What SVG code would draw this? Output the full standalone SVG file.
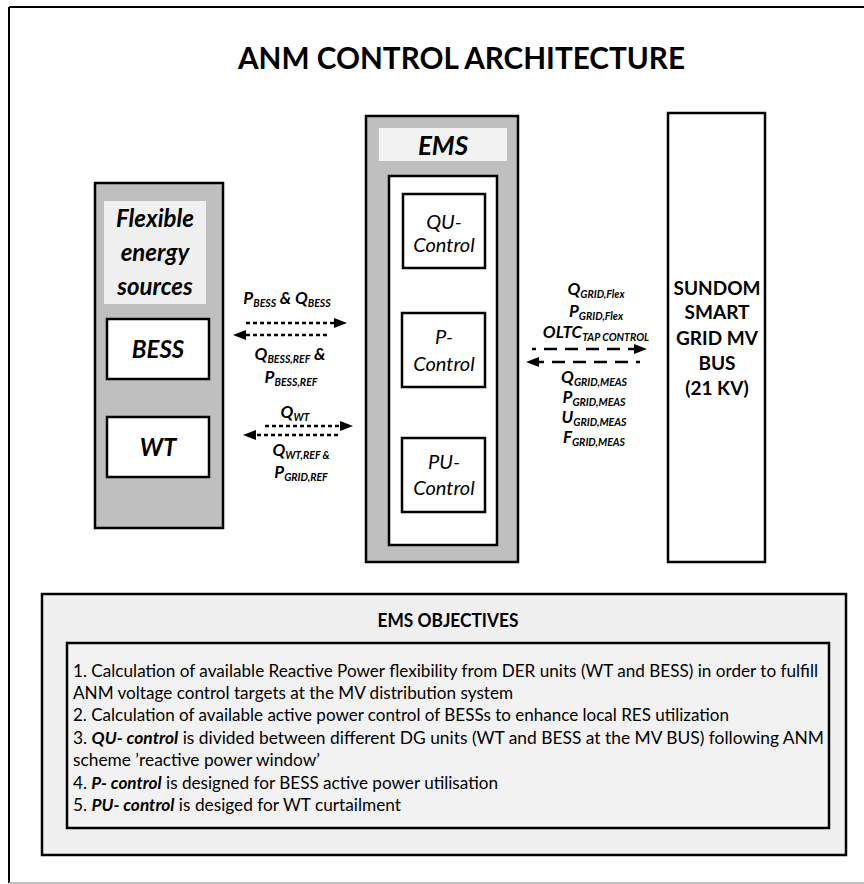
<svg xmlns="http://www.w3.org/2000/svg" width="864" height="884" viewBox="0 0 864 884">
<style>
text{font-family:Lato,"Liberation Sans",sans-serif;fill:#000}
.bi{font-weight:bold;font-style:italic}
.b{font-weight:bold}
.it{font-style:italic}
.box{stroke:#000;stroke-width:2.5}
.lbl{font-size:17px;font-weight:bold;font-style:italic;text-anchor:middle}
.sub{font-size:10.5px}
.dot{stroke:#000;stroke-width:2.5;stroke-dasharray:4 3;fill:none}
.dash{stroke:#000;stroke-width:2.5;stroke-dasharray:13 8;fill:none}
.obj{font-size:17px}
</style>
<defs>
<marker id="ah" markerUnits="userSpaceOnUse" markerWidth="14" markerHeight="12" refX="0" refY="6" orient="auto">
<path d="M0,1 L13,6 L0,11 Z" fill="#000"/>
</marker>
</defs>
<rect x="0" y="0" width="864" height="884" fill="#fff"/>
<g id="frame">
<line x1="9" y1="7" x2="864" y2="7" stroke="#000" stroke-width="2"/>
<line x1="9" y1="7" x2="9" y2="883" stroke="#000" stroke-width="2"/>
<line x1="9" y1="883" x2="864" y2="883" stroke="#aaa" stroke-width="1.5"/>
</g>
<text x="461.5" y="69" font-size="30" class="b" text-anchor="middle" textLength="447" lengthAdjust="spacingAndGlyphs">ANM CONTROL ARCHITECTURE</text>

<g id="flexible">
<rect class="box" x="95" y="183" width="128" height="345" fill="#bfbfbf"/>
<rect x="104" y="201" width="102" height="103" fill="#f0f0f0"/>
<text class="bi" font-size="24" text-anchor="middle" x="155" y="227">Flexible</text>
<text class="bi" font-size="24" text-anchor="middle" x="155" y="261">energy</text>
<text class="bi" font-size="24" text-anchor="middle" x="155" y="295">sources</text>
</g>
<g id="bess">
<rect class="box" x="107" y="319" width="102" height="60" fill="#fff"/>
<text class="bi" font-size="24" text-anchor="middle" x="158" y="358">BESS</text>
</g>
<g id="wt">
<rect class="box" x="107" y="417" width="102" height="60" fill="#fff"/>
<text class="bi" font-size="24" text-anchor="middle" x="158" y="456">WT</text>
</g>

<g id="ems">
<rect class="box" x="366" y="116" width="152" height="446" fill="#bfbfbf"/>
<rect x="379" y="128" width="128" height="33" fill="#f2f2f2"/>
<text class="bi" font-size="26" text-anchor="middle" x="443" y="155">EMS</text>
<rect class="box" x="389" y="176" width="108" height="369" fill="#fff"/>
</g>
<g id="qu-control">
<rect class="box" x="403" y="194" width="82" height="74" fill="#fff"/>
<text class="it" font-size="20" text-anchor="middle" x="444" y="229">QU-</text>
<text class="it" font-size="20" text-anchor="middle" x="444" y="252">Control</text>
</g>
<g id="p-control">
<rect class="box" x="402" y="313" width="83" height="74" fill="#fff"/>
<text class="it" font-size="20" text-anchor="middle" x="444" y="344">P-</text>
<text class="it" font-size="20" text-anchor="middle" x="444" y="371">Control</text>
</g>
<g id="pu-control">
<rect class="box" x="402" y="438" width="83" height="74" fill="#fff"/>
<text class="it" font-size="20" text-anchor="middle" x="444" y="469">PU-</text>
<text class="it" font-size="20" text-anchor="middle" x="444" y="495">Control</text>
</g>

<g id="sundom">
<rect class="box" x="668" y="113" width="97" height="449" fill="#fff"/>
<text class="b" font-size="19" text-anchor="middle" x="717" y="295">SUNDOM</text>
<text class="b" font-size="19" text-anchor="middle" x="717" y="319">SMART</text>
<text class="b" font-size="19" text-anchor="middle" x="717" y="345">GRID MV</text>
<text class="b" font-size="19" text-anchor="middle" x="717" y="370">BUS</text>
<text class="b" font-size="19" text-anchor="middle" x="717" y="395">(21 KV)</text>
</g>

<g id="connectors">
<line class="dot" x1="246" y1="323" x2="334" y2="323" marker-end="url(#ah)"/>
<line class="dot" x1="327" y1="335" x2="246" y2="335" marker-end="url(#ah)"/>
<line class="dot" x1="265" y1="426" x2="340" y2="426" marker-end="url(#ah)"/>
<line class="dot" x1="338" y1="435" x2="256" y2="435" marker-end="url(#ah)"/>
<line class="dash" x1="532" y1="349" x2="634" y2="349" stroke-dashoffset="9" marker-end="url(#ah)"/>
<line class="dash" x1="640" y1="362" x2="539" y2="362" stroke-dashoffset="9" marker-end="url(#ah)"/>
</g>

<g id="labels">
<text class="lbl" x="287" y="304">P<tspan class="sub" dy="3">BESS</tspan><tspan dy="-3"> &amp; Q</tspan><tspan class="sub" dy="3">BESS</tspan></text>
<text class="lbl" x="290" y="360">Q<tspan class="sub" dy="3">BESS,REF</tspan><tspan dy="-3"> &amp;</tspan></text>
<text class="lbl" x="291" y="383">P<tspan class="sub" dy="3">BESS,REF</tspan></text>
<text class="lbl" x="295" y="418">Q<tspan class="sub" dy="3">WT</tspan></text>
<text class="lbl" x="301" y="456">Q<tspan class="sub" dy="3">WT,REF &amp;</tspan></text>
<text class="lbl" x="301" y="478">P<tspan class="sub" dy="3">GRID,REF</tspan></text>

<text class="lbl" x="596" y="295">Q<tspan class="sub" dy="3">GRID,Flex</tspan></text>
<text class="lbl" x="596" y="317">P<tspan class="sub" dy="3">GRID,Flex</tspan></text>
<text class="lbl" x="596" y="338">OLTC<tspan class="sub" dy="3">TAP CONTROL</tspan></text>
<text class="lbl" x="594" y="383">Q<tspan class="sub" dy="3">GRID,MEAS</tspan></text>
<text class="lbl" x="594" y="403">P<tspan class="sub" dy="3">GRID,MEAS</tspan></text>
<text class="lbl" x="594" y="423">U<tspan class="sub" dy="3">GRID,MEAS</tspan></text>
<text class="lbl" x="594" y="443">F<tspan class="sub" dy="3">GRID,MEAS</tspan></text>
</g>

<g id="objectives">
<rect x="42" y="594" width="804" height="261" fill="#f0f0f0" stroke="#000" stroke-width="2.5"/>
<text class="b" font-size="18" text-anchor="middle" x="448" y="627" textLength="141" lengthAdjust="spacingAndGlyphs">EMS OBJECTIVES</text>
<rect x="67" y="643" width="762" height="185" fill="#f2f2f2" stroke="#000" stroke-width="2.5"/>
<text class="obj" x="73" y="677" textLength="745" lengthAdjust="spacingAndGlyphs">1. Calculation of available Reactive Power flexibility from DER units (WT and BESS) in order to fulfill</text>
<text class="obj" x="73" y="699" textLength="440" lengthAdjust="spacingAndGlyphs">ANM voltage control targets at the MV distribution system</text>
<text class="obj" x="73" y="721" textLength="656" lengthAdjust="spacingAndGlyphs">2. Calculation of available active power control of BESSs to enhance local RES utilization</text>
<text class="obj" x="73" y="744" textLength="751" lengthAdjust="spacingAndGlyphs">3. <tspan class="bi">QU- control</tspan> is divided between different DG units (WT and BESS at the MV BUS) following ANM</text>
<text class="obj" x="73" y="766" textLength="247" lengthAdjust="spacingAndGlyphs">scheme ’reactive power window’</text>
<text class="obj" x="73" y="789" textLength="425" lengthAdjust="spacingAndGlyphs">4. <tspan class="bi">P- control</tspan> is designed for BESS active power utilisation</text>
<text class="obj" x="73" y="811" textLength="328" lengthAdjust="spacingAndGlyphs">5. <tspan class="bi">PU- control</tspan> is desiged for WT curtailment</text>
</g>
</svg>
